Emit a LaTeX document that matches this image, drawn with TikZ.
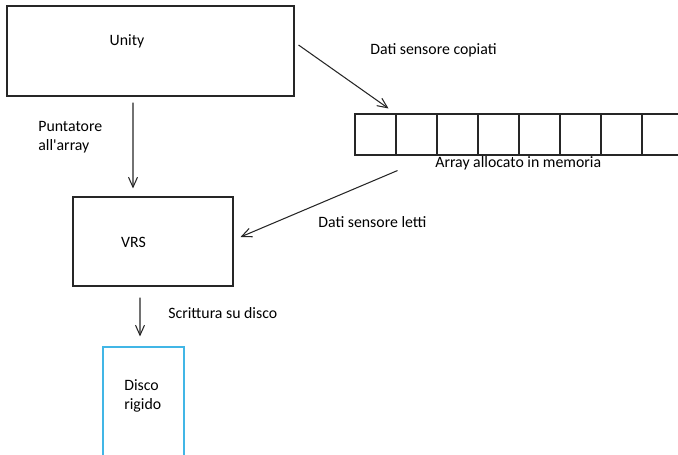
\documentclass[tikz,border=0pt]{standalone}
\usepackage{fontspec}
\setmainfont{Carlito}
\usepackage{tikz}
\usetikzlibrary{arrows.meta,positioning}
\definecolor{discoblu}{RGB}{65,182,230}

\begin{document}
\begin{tikzpicture}[font=\fontsize{9}{10.8}\selectfont,
		blocco/.style = {draw=black!85,line width=0.6pt,inner sep=0pt},
		cella/.style = {draw=black!85,line width=0.6pt,minimum size=0.82cm,inner sep=0pt},
		testo/.style = {anchor=west,align=left,inner sep=0pt},
		freccia/.style = {draw=black!85,line width=0.6pt,-{Straight Barb[length=2mm,width=1.8mm]}}]
		\clip (0,0) rectangle (13.56,-9.08);
		\node (unity) at (3.01,-1.02) [blocco,minimum width=5.74cm,minimum height=1.8cm] {};
		\node (unitytxt) at (2.54,-0.82) [] {Unity};
		\foreach \i in {1,...,8} {
			\node (c\i) at (7.1+0.82*\i-0.41,-2.69) [cella] {};
		}
		\node (vrs) at (3.06,-4.83) [blocco,minimum width=3.2cm,minimum height=1.78cm] {};
		\node (vrstxt) at (2.67,-4.84) [] {VRS};
		\node (disco) at (2.87,-8.84) [blocco,draw=discoblu,minimum width=1.62cm,minimum height=3.8cm] {};
		\node (discotxt) at (2.48,-7.92) [testo] {Disco\\rigido};
		\node (copiati) at (7.4,-1.0) [testo] {Dati sensore copiati};
		\node (memoria) at (8.7,-3.26) [testo] {Array allocato in memoria};
		\node (letti) at (6.36,-4.44) [testo] {Dati sensore letti};
		\node (puntatore) at (0.76,-2.75) [testo] {Puntatore\\all\textquotesingle array};
		\node (scrittura) at (3.36,-6.26) [testo] {Scrittura su disco};
		\path [freccia] ([shift={(0.08,0.12)}]unity.east) -- ([shift={(-0.16,0.1)}]c1.north east);
		\path [freccia] ([shift={(0.02,-0.3)}]c1.south east) -- ([shift={(0.14,0.09)}]vrs.east);
		\path [freccia] ([shift={(-0.35,-0.12)}]unity.south) -- ([shift={(-0.4,0.16)}]vrs.north);
		\path [freccia] ([shift={(-0.26,-0.22)}]vrs.south) -- ([shift={(-0.07,0.2)}]disco.north);
	\end{tikzpicture}
\end{document}
